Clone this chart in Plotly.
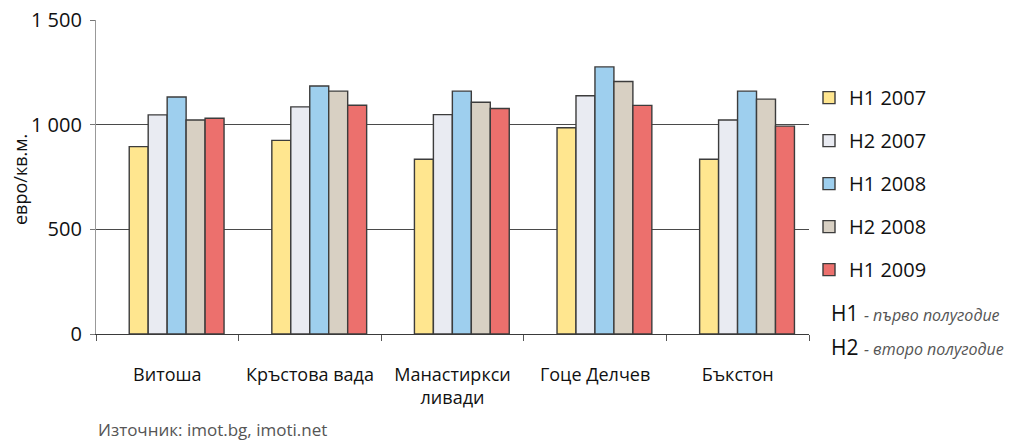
import plotly.graph_objects as go

# Average asking prices by district, EUR per sq. m
districts = ["Витоша", "Кръстова вада", "Манастиркси<br>ливади", "Гоце Делчев", "Бъкстон"]
series_names = ["H1 2007", "H2 2007", "H1 2008", "H2 2008", "H1 2009"]
h1_2007 = [895, 925, 835, 985, 835]
h2_2007 = [1047, 1085, 1048, 1138, 1022]
h1_2008 = [1132, 1185, 1160, 1276, 1160]
h2_2008 = [1022, 1160, 1107, 1206, 1122]
h1_2009 = [1031, 1093, 1077, 1092, 993]
series_values = [h1_2007, h2_2007, h1_2008, h2_2008, h1_2009]
colors = ["#FFE68F", "#E9EBF2", "#9ECFEE", "#D8D0C3", "#EC706D"]

y_ticks = [0, 500, 1000, 1500]
y_tick_labels = ["0", "500", "1 000", "1 500"]

FONT = "Open Sans"
bar_w = 0.133

fig = go.Figure()
for i, (name, vals, col) in enumerate(zip(series_names, series_values, colors)):
    fig.add_trace(go.Bar(
        x=districts, y=vals, name=name,
        marker=dict(color=col, line=dict(color="#3c3c3c", width=1.4)),
        width=bar_w, offset=-0.4 + bar_w * (i + 1) - bar_w / 2 + bar_w / 2,
        legendgroup=name,
    ))

fig.update_layout(
    width=1028, height=442,
    margin=dict(l=96, r=219, t=20, b=108, autoexpand=False),
    plot_bgcolor="white", paper_bgcolor="white",
    barmode="overlay",
    font=dict(family=FONT, color="#111111"),
    showlegend=True,
    legend=dict(
        x=1.0, xanchor="left", y=0.815, yanchor="top",
        font=dict(size=20, family=FONT, color="#111111"),
        tracegroupgap=14, bgcolor="rgba(0,0,0,0)",
    ),
    xaxis=dict(
        type="category", automargin=False,
        showline=True, linecolor="#3a3a3a", linewidth=1.2,
        ticks="outside", tickson="boundaries", ticklen=6, tickcolor="#555555",
        tickfont=dict(size=18, family=FONT, color="#111111"),
        ticklabelstandoff=24,
        showgrid=False,
    ),
    yaxis=dict(
        range=[0, 1500], automargin=False,
        tickvals=y_ticks, ticktext=y_tick_labels,
        showline=True, linecolor="#999999", linewidth=1.2,
        ticks="outside", ticklen=5, tickcolor="#777777",
        tickfont=dict(size=20, family=FONT, color="#111111"),
        ticklabelstandoff=4,
        showgrid=True, gridcolor="#4a4a4a", gridwidth=1,
        zeroline=False,
    ),
    annotations=[
        dict(text="евро/кв.м.", textangle=-90, xref="paper", yref="paper",
             x=(20 - 96) / 713, y=(334 - 180) / 314, xanchor="center", yanchor="middle",
             showarrow=False, font=dict(size=18, family=FONT, color="#111111")),
        dict(text="H1 <i><span style='font-size:16px;color:#555555'>- първо полугодие</span></i>",
             xref="paper", yref="paper", x=(829 - 96) / 713, y=(334 - 313) / 314,
             xanchor="left", yanchor="middle", showarrow=False,
             font=dict(size=21, family=FONT, color="#111111")),
        dict(text="H2 <i><span style='font-size:16px;color:#555555'>- второ полугодие</span></i>",
             xref="paper", yref="paper", x=(829 - 96) / 713, y=(334 - 347) / 314,
             xanchor="left", yanchor="middle", showarrow=False,
             font=dict(size=21, family=FONT, color="#111111")),
        dict(text="Източник: imot.bg, imoti.net", xref="paper", yref="paper",
             x=(96 - 96) / 713, y=(334 - 429) / 314, xanchor="left", yanchor="middle",
             showarrow=False, font=dict(size=17, family=FONT, color="#555555")),
    ],
)

fig.write_html("out.html")
